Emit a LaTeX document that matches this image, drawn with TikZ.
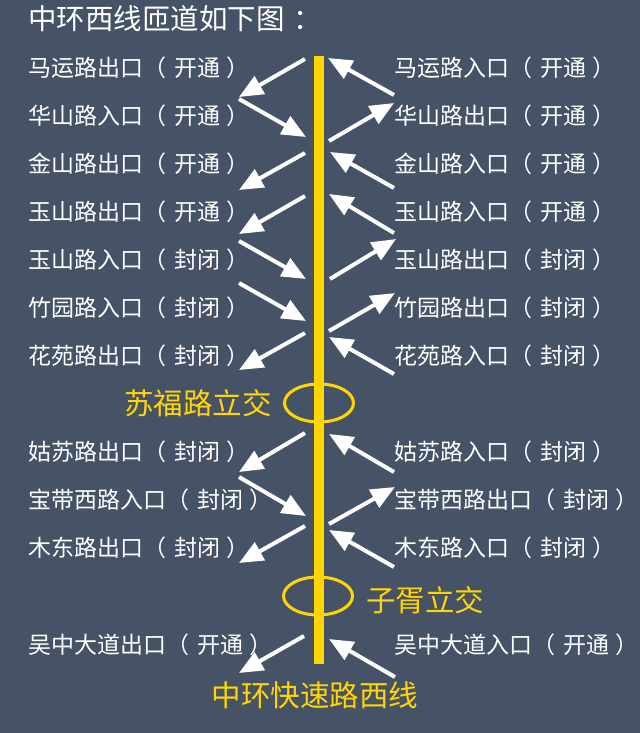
\documentclass[tikz,border=0pt]{standalone}
\usepackage{fontspec}
\setmainfont{Noto Sans CJK SC}
\usetikzlibrary{arrows.meta,shapes.geometric}
\definecolor{bg}{RGB}{70,83,102}
\definecolor{gold}{RGB}{255,214,0}
\newcommand{\lp}{（\hspace{8bp}}
\newcommand{\rp}{\hspace{6bp}）}
\tikzset{
  arr/.style={white, line width=4bp, -{Triangle[length=24bp,width=20bp]}},
  lab/.style={text=white, anchor=west, inner sep=0pt, font=\fontsize{23bp}{27bp}\selectfont},
  ylab/.style={text=gold, inner sep=0pt, font=\fontsize{29.5bp}{34bp}\selectfont},
  ttl/.style={text=white, anchor=west, inner sep=0pt, font=\fontsize{28.5bp}{33bp}\selectfont},
  ring/.style={ellipse, draw=gold, line width=3bp, minimum width=69bp, minimum height=38bp, inner sep=0pt}
}
\begin{document}
\begin{tikzpicture}[x=1bp,y=-1bp]
\fill[bg] (0,0) rectangle (640,733);
\useasboundingbox (0,0) rectangle (640,733);
\node[ttl] (title) at (28,19) {中环西线匝道如下图\hspace{9bp}：};
% main road
\coordinate (top) at (319,56);
\coordinate (bot) at (319,664);
\draw[gold, line width=10bp] (top) -- (bot);
\node[ring] (sufu) at (319,403) {};
\node[ring] (zixu) at (318,596) {};
% left labels
\node[lab] (L1) at (28,68) {马运路出口\lp 开通\rp};
\node[lab] (L2) at (28,116) {华山路入口\lp 开通\rp};
\node[lab] (L3) at (28,164) {金山路出口\lp 开通\rp};
\node[lab] (L4) at (28,212) {玉山路出口\lp 开通\rp};
\node[lab] (L5) at (28,260) {玉山路入口\lp 封闭\rp};
\node[lab] (L6) at (28,308) {竹园路入口\lp 封闭\rp};
\node[lab] (L7) at (28,356) {花苑路出口\lp 封闭\rp};
\node[lab] (L9) at (28,452) {姑苏路出口\lp 封闭\rp};
\node[lab] (L10) at (28,500) {宝带西路入口\lp 封闭\rp};
\node[lab] (L11) at (28,548) {木东路出口\lp 封闭\rp};
\node[lab] (L13) at (28,645) {吴中大道出口\lp 开通\rp};
% right labels
\node[lab] (R1) at (394,68) {马运路入口\lp 开通\rp};
\node[lab] (R2) at (394,116) {华山路出口\lp 开通\rp};
\node[lab] (R3) at (394,164) {金山路入口\lp 开通\rp};
\node[lab] (R4) at (394,212) {玉山路入口\lp 开通\rp};
\node[lab] (R5) at (394,260) {玉山路出口\lp 封闭\rp};
\node[lab] (R6) at (394,308) {竹园路出口\lp 封闭\rp};
\node[lab] (R7) at (394,356) {花苑路入口\lp 封闭\rp};
\node[lab] (R9) at (394,452) {姑苏路入口\lp 封闭\rp};
\node[lab] (R10) at (394,500) {宝带西路出口\lp 封闭\rp};
\node[lab] (R11) at (394,548) {木东路入口\lp 封闭\rp};
\node[lab] (R13) at (394,645) {吴中大道入口\lp 开通\rp};
% yellow labels
\node[ylab] (sufuT) at (198,403) {苏福路立交};
\node[ylab] (zixuT) at (425,600) {子胥立交};
\node[ylab] (roadT) at (315,695) {中环快速路西线};
% arrows
\foreach \n/\ax/\ay/\bx/\by in {
  l1/305/59/239/97, l2/239/99/306/137, l3/305/153/239/190, l4/305/196/239/234,
  l5/239/241/306/279, l6/239/283/306/321, l7/305/333/239/370, l9/305/433/239/472,
  l10/239/477/306/516, l11/305/526/239/563, l13/304/636/239/673,
  r1/394/95/328/58, r2/329/141/394/103, r3/394/188/330/152, r4/394/233/329/194,
  r5/330/279/396/239, r6/329/331/395/293, r7/394/374/329/337, r9/394/472/329/434,
  r10/329/524/395/487, r11/394/567/329/530, r13/395/677/329/639}{
  \coordinate (\n a) at (\ax,\ay);
  \coordinate (\n b) at (\bx,\by);
  \draw[arr] (\n a) -- (\n b);
}
\end{tikzpicture}
\end{document}
